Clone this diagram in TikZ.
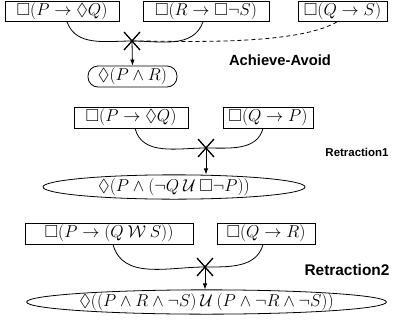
\documentclass[tikz,border=0pt]{standalone}
\usepackage{amssymb}
\usepackage{fontspec}
\newfontfamily\lblfont{Liberation Sans}
\usetikzlibrary{arrows.meta,shapes.geometric}
\tikzset{
  fbox/.style={draw,line width=0.8pt,rectangle,inner sep=0pt,minimum height=20bp,font=\fontsize{17.5}{20}\selectfont},
  goalpill/.style={draw,line width=0.8pt,rounded corners=10bp,inner sep=0pt,minimum height=21bp,font=\fontsize{17.5}{20}\selectfont},
  goalell/.style={draw,line width=0.8pt,ellipse,inner sep=0pt,minimum height=21bp,font=\fontsize{17.5}{20}\selectfont},
  conn/.style={line width=0.8pt},
  crossline/.style={line width=1.3pt},
  arr/.style={line width=0.8pt,-{Latex[length=6bp,width=4.5bp]}},
  lbl/.style={font=\lblfont\bfseries}
}
\newcommand{\xmark}[1]{\draw[crossline] ([shift={(-8bp,-9bp)}]#1) -- ([shift={(8bp,9bp)}]#1);
  \draw[crossline] ([shift={(-8bp,9bp)}]#1) -- ([shift={(8bp,-9bp)}]#1);}
\begin{document}
\begin{tikzpicture}[x=1bp,y=-1bp]
\useasboundingbox (0,0) rectangle (393,324);
% Achieve-Avoid
\node[fbox,minimum width=114bp] (t1) at (62,11.5) {$\Box(P\rightarrow\Diamond Q)$};
\node[fbox,minimum width=126bp] (t2) at (206,11.5) {$\Box(R\rightarrow\Box\neg S)$};
\node[fbox,minimum width=89bp] (t3) at (342.5,11.5) {$\Box(Q\rightarrow S)$};
\coordinate (x1) at (132,41);
\node[goalpill,minimum width=89bp] (e1) at (132.5,76.5) {$\Diamond(P\wedge R)$};
\node[lbl,font=\lblfont\bfseries\fontsize{14.8}{17}\selectfont] (l1) at (280,60) {Achieve-Avoid};
\draw[conn] ([xshift=5bp]t1.south) to[out=-70,in=180] (x1);
\draw[conn] ([xshift=-3bp]t2.south) to[out=-110,in=0] (x1);
\draw[conn,dashed,dash pattern=on 4bp off 3bp] ([xshift=-5.5bp]t3.south) to[out=-150,in=0,looseness=0.6] (x1);
\xmark{x1}
\draw[arr] (x1) -- (e1.north);
% Retraction1
\node[fbox,minimum width=114bp,minimum height=21bp] (b1) at (131,117.5) {$\Box(P\rightarrow\Diamond Q)$};
\node[fbox,minimum width=90bp,minimum height=21bp] (b2) at (268,117.5) {$\Box(Q\rightarrow P)$};
\coordinate (x2) at (206,148);
\node[goalell,minimum width=262bp,minimum height=20bp] (e2) at (174,187) {$\Diamond(P\wedge(\neg Q\mathbin{\mathcal{U}}\Box\neg P))$};
\node[lbl,font=\lblfont\bfseries\fontsize{11.5}{14}\selectfont] (l2) at (357,152) {Retraction1};
\draw[conn] ([xshift=4bp]b1.south) to[out=-75,in=180] (x2);
\draw[conn] ([xshift=-5bp]b2.south) to[out=-105,in=0] (x2);
\xmark{x2}
\draw[arr] (x2) -- (x2 |- e2.north);
% Retraction2
\node[fbox,minimum width=168bp,minimum height=21bp] (c1) at (109,233.5) {$\Box(P\rightarrow(Q\mathbin{\mathcal{W}}S))$};
\node[fbox,minimum width=98bp,minimum height=21bp] (c2) at (266,233.5) {$\Box(Q\rightarrow R)$};
\coordinate (x3) at (205,267);
\node[goalell,minimum width=327bp,minimum height=22bp] (e3) at (206.5,302) {$\Diamond((P\wedge R\wedge\neg S)\mathbin{\mathcal{U}}(P\wedge\neg R\wedge\neg S))$};
\node[lbl,font=\lblfont\bfseries\fontsize{15.5}{18}\selectfont] (l3) at (347,270) {Retraction2};
\draw[conn] ([xshift=4bp]c1.south) to[out=-75,in=180] (x3);
\draw[conn] ([xshift=-3bp]c2.south) to[out=-105,in=0] (x3);
\xmark{x3}
\draw[arr] (x3) -- (x3 |- e3.north);
\end{tikzpicture}
\end{document}
